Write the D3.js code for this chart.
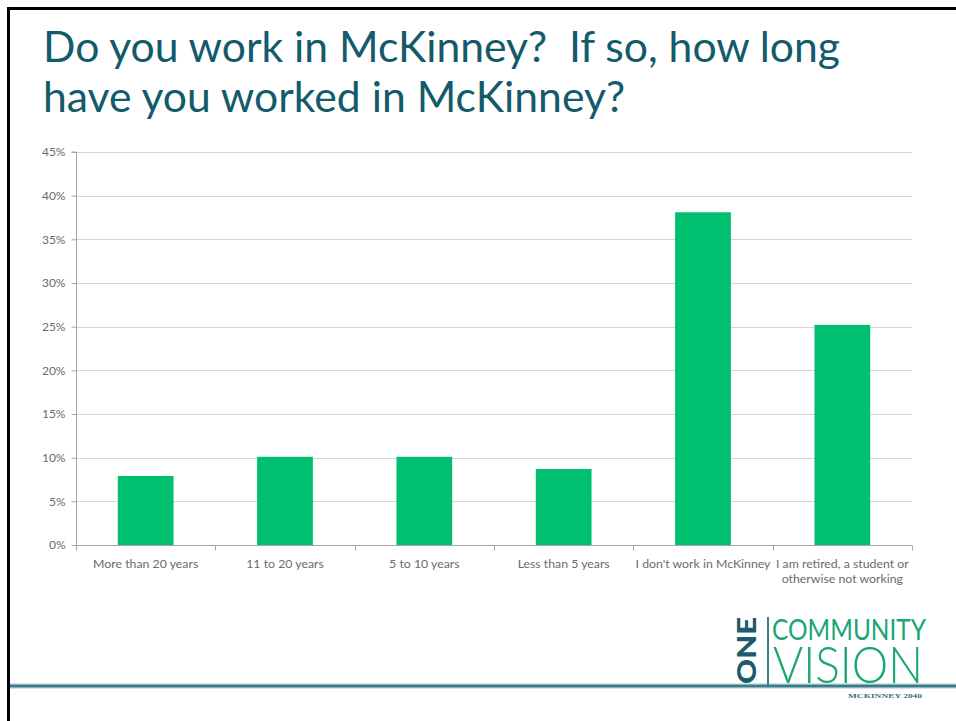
<!DOCTYPE html>
<html>
<head>
<meta charset="utf-8">
<script src="https://cdn.jsdelivr.net/npm/d3@7"></script>
<style>
  html, body { margin: 0; padding: 0; background: #ffffff; }
  svg { display: block; }
</style>
</head>
<body>
<svg id="slide" width="956" height="721"></svg>
<script>
// Survey responses: share of respondents per answer
const categories = [
  "More than 20 years",
  "11 to 20 years",
  "5 to 10 years",
  "Less than 5 years",
  "I don't work in McKinney",
  "I am retired, a student or otherwise not working"
];
const values = [0.079, 0.101, 0.101, 0.087, 0.381, 0.252];
const yTicks = [0, 0.05, 0.10, 0.15, 0.20, 0.25, 0.30, 0.35, 0.40, 0.45];
const titleLines = ["Do you work in McKinney?  If so, how long", "have you worked in McKinney?"];

const svg = d3.select("#slide");
const W = 956, H = 721;
const font = "Lato, 'Open Sans', sans-serif";

// Slide frame: black rules on the top and left edge
svg.append("rect").attr("width", W).attr("height", H).attr("fill", "#ffffff");
svg.append("line").attr("x1", 7).attr("x2", W).attr("y1", 8.5).attr("y2", 8.5)
  .attr("stroke", "#000").attr("stroke-width", 3);
svg.append("line").attr("x1", 8.5).attr("x2", 8.5).attr("y1", 7).attr("y2", H)
  .attr("stroke", "#000").attr("stroke-width", 3);

// Title (narrow face, two spaces kept after the first question)
const titleWidths = [797, 582];
svg.append("g").selectAll("text").data(titleLines).join("text")
  .attr("x", 43).attr("y", (d, i) => 62 + i * 50)
  .attr("font-family", font).attr("font-size", 43)
  .attr("fill", "#135a6b")
  .style("white-space", "pre")
  .attr("textLength", (d, i) => titleWidths[i])
  .attr("lengthAdjust", "spacingAndGlyphs")
  .text(d => d);

// Chart area
const plot = { left: 76, right: 912, top: 152, bottom: 545 };
const x = d3.scaleBand().domain(categories)
  .range([plot.left, plot.right]).paddingInner(0.6).paddingOuter(0.3);
const y = d3.scaleLinear().domain([0, 0.45]).range([plot.bottom, plot.top]);

// Gridlines
svg.append("g").selectAll("line").data(yTicks.slice(1)).join("line")
  .attr("x1", plot.left).attr("x2", plot.right)
  .attr("y1", d => Math.round(y(d)) + 0.5).attr("y2", d => Math.round(y(d)) + 0.5)
  .attr("stroke", "#d6d6d6").attr("stroke-width", 1.2);

// Bars
svg.append("g").selectAll("rect").data(values).join("rect")
  .attr("x", (d, i) => x(categories[i]))
  .attr("width", x.bandwidth())
  .attr("y", d => y(d))
  .attr("height", d => y(0) - y(d))
  .attr("fill", "#00bf6f");

// Y axis
const yAxis = d3.axisLeft(y).tickValues(yTicks).tickFormat(d3.format(".0%"))
  .tickSize(5).tickPadding(6);
const gy = svg.append("g").attr("transform", `translate(${plot.left + 0.5},0)`).call(yAxis);
gy.select(".domain").attr("stroke", "#a6a6a6").attr("d", `M-5,${plot.top}H0V${plot.bottom}`);
gy.selectAll(".tick line").attr("stroke", "#a6a6a6");
gy.selectAll(".tick text").attr("font-family", font).attr("font-size", 12)
  .attr("fill", "#6b6b6b");

// X axis with ticks on band boundaries
const gx = svg.append("g").attr("transform", `translate(0,${plot.bottom + 0.5})`);
gx.append("line").attr("x1", plot.left).attr("x2", plot.right)
  .attr("stroke", "#a6a6a6");
const bounds = d3.range(categories.length + 1).map(i => plot.left + i * (plot.right - plot.left) / categories.length);
gx.selectAll("line.tk").data(bounds).join("line").attr("class", "tk")
  .attr("x1", d => Math.round(d) + 0.5).attr("x2", d => Math.round(d) + 0.5)
  .attr("y1", 0).attr("y2", 5).attr("stroke", "#a6a6a6");

// Category labels, wrapped where a label is wider than its slot
function wrapLines(label) {
  if (label.length <= 26) return [label];
  return ["I am retired, a student or", "otherwise not working"];
}
const lbl = gx.selectAll("text").data(categories).join("text")
  .attr("x", d => x(d) + x.bandwidth() / 2)
  .attr("y", 22)
  .attr("text-anchor", "middle")
  .attr("font-family", font).attr("font-size", 12.3)
  .attr("fill", "#6b6b6b");
lbl.selectAll("tspan").data(d => wrapLines(d)).join("tspan")
  .attr("x", function () { return d3.select(this.parentNode).attr("x"); })
  .attr("dy", (d, i) => i === 0 ? 0 : 15)
  .text(d => d);

// Footer rule
svg.append("line").attr("x1", 10).attr("x2", W).attr("y1", 686).attr("y2", 686)
  .attr("stroke", "#a9c7cc").attr("stroke-width", 5);
svg.append("line").attr("x1", 10).attr("x2", W).attr("y1", 686).attr("y2", 686)
  .attr("stroke", "#3a7b86").attr("stroke-width", 2.5);

// Logo
const logo = svg.append("g");
logo.append("text")
  .attr("transform", "translate(756,684) rotate(-90)")
  .attr("font-family", font).attr("font-weight", 900).attr("font-size", 27)
  .attr("fill", "#1c5b6a")
  .attr("textLength", 67).attr("lengthAdjust", "spacingAndGlyphs")
  .text("ONE");
logo.append("line").attr("x1", 768).attr("x2", 768).attr("y1", 617).attr("y2", 686)
  .attr("stroke", "#3a7b86").attr("stroke-width", 2);
logo.append("text").attr("x", 772).attr("y", 640)
  .attr("font-family", font).attr("font-weight", 400).attr("font-size", 28)
  .attr("fill", "#1aa574")
  .attr("textLength", 154).attr("lengthAdjust", "spacingAndGlyphs")
  .text("COMMUNITY");
logo.append("text").attr("x", 773).attr("y", 683)
  .attr("font-family", font).attr("font-weight", 300).attr("font-size", 52)
  .attr("fill", "#1aa574")
  .attr("textLength", 150).attr("lengthAdjust", "spacingAndGlyphs")
  .text("VISION");
logo.append("text").attr("x", 848).attr("y", 698)
  .attr("font-family", "'Liberation Serif', serif").attr("font-weight", 700).attr("font-size", 6)
  .attr("fill", "#3a6f7a")
  .attr("textLength", 74).attr("lengthAdjust", "spacingAndGlyphs")
  .text("MCKINNEY 2040");
</script>
</body>
</html>
